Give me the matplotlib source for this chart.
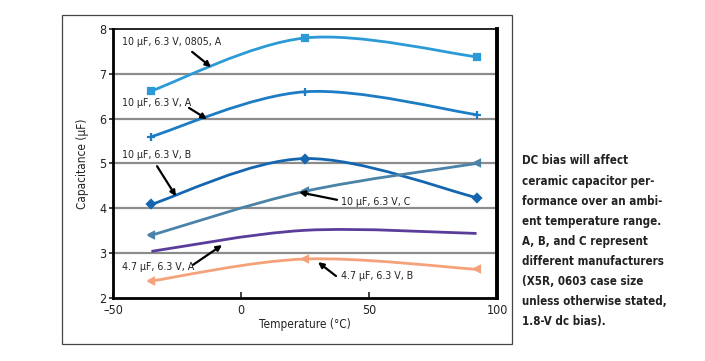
import numpy as np
import matplotlib
matplotlib.use("Agg")
import matplotlib.pyplot as plt
from matplotlib.path import Path
from matplotlib.patches import PathPatch, Rectangle
from matplotlib import font_manager

# condensed face, like the narrow type of the original figure
names = {f.name for f in font_manager.fontManager.ttflist}
narrow = 'Liberation Sans Narrow' if 'Liberation Sans Narrow' in names else 'DejaVu Sans'
plt.rcParams['font.family'] = [narrow, 'DejaVu Sans']
plt.rcParams['font.stretch'] = 'condensed'

# temperatures (°C) at which each part was measured
temps = [-35, 25, 92]

# capacitance (µF)
cap_0805_a = [6.62, 7.80, 7.38]
cap_10_a = [5.60, 6.60, 6.09]
cap_10_b = [4.09, 5.11, 4.24]
cap_10_c = [3.40, 4.38, 5.00]
cap_47_a = [3.04, 3.51, 3.44]
cap_47_b = [2.38, 2.87, 2.64]

x_ticks = [-50, 0, 50, 100]
x_tick_labels = ['\u201350', '0', '50', '100']
y_ticks = [2, 3, 4, 5, 6, 7, 8]

caption = ["DC bias will affect",
           "ceramic capacitor per-",
           "formance over an ambi-",
           "ent temperature range.",
           "A, B, and C represent",
           "different manufacturers",
           "(X5R, 0603 case size",
           "unless otherwise stated,",
           "1.8-V dc bias)."]


def smooth_path(xs, ys):
    # Excel style smoothed line: cubic Bezier through the points
    pts = np.column_stack([xs, ys]).astype(float)
    ext = np.vstack([pts[0], pts, pts[-1]])
    verts = [tuple(pts[0])]
    codes = [Path.MOVETO]
    for i in range(1, len(ext) - 2):
        p0, p1, p2, p3 = ext[i - 1], ext[i], ext[i + 1], ext[i + 2]
        c1 = p1 + (p2 - p0) / 6.0
        c2 = p2 - (p3 - p1) / 6.0
        verts += [tuple(c1), tuple(c2), tuple(p2)]
        codes += [Path.CURVE4] * 3
    return Path(verts, codes)


fig = plt.figure(figsize=(7.05, 3.61), dpi=100)
ax = fig.add_axes([0.1603, 0.1745, 0.5447, 0.7452])

# outer frame around the chart
fig.patches.append(Rectangle((62 / 705, 1 - 344 / 361), 450 / 705, 329 / 361,
                             transform=fig.transFigure, fill=False,
                             edgecolor='#444444', linewidth=0.9))

ax.set_xlim(-50, 100)
ax.set_ylim(2, 8)
for y in y_ticks[1:-1]:
    ax.axhline(y, color='#8c8c8c', linewidth=1.6, zorder=1)

series = [
    (cap_0805_a, '#2b9ad6', 's', 5),
    (cap_10_a, '#1c7cc4', '+', 6),
    (cap_10_b, '#1566b0', 'D', 4),
    (cap_10_c, '#4a82a8', '<', 5),
    (cap_47_a, '#5a3d9a', None, 0),
    (cap_47_b, '#f5a27a', '<', 5),
]
for vals, color, marker, ms in series:
    ax.add_patch(PathPatch(smooth_path(temps, vals), facecolor='none',
                           edgecolor=color, linewidth=2.0, zorder=3))
    if marker:
        ax.plot(temps, vals, linestyle='none', marker=marker, markersize=ms,
                color=color, markeredgewidth=1.6, zorder=4)

labels = [
    ("10 \u00b5F, 6.3 V, 0805, A", (-46.5, 7.71), (-19.1, 7.49), (-11.7, 7.15)),
    ("10 \u00b5F, 6.3 V, A", (-46.5, 6.35), (-20.3, 6.24), (-13.3, 5.99)),
    ("10 \u00b5F, 6.3 V, B", (-46.5, 5.19), (-32.8, 4.94), (-25.4, 4.27)),
    ("10 \u00b5F, 6.3 V, C", (39.1, 4.14), (37.5, 4.19), (22.7, 4.36)),
    ("4.7 \u00b5F, 6.3 V, A", (-46.5, 2.69), (-18.75, 2.74), (-7.4, 3.18)),
    ("4.7 \u00b5F, 6.3 V, B", (39.1, 2.49), (37.1, 2.49), (30.1, 2.80)),
]
for text, pos, tail, head in labels:
    ax.text(pos[0], pos[1], text, fontsize=7.6, color='#222222',
            ha='left', va='center', zorder=5)
    ax.annotate('', xy=head, xytext=tail,
                arrowprops=dict(arrowstyle='-|>', color='black', lw=1.6,
                                mutation_scale=8, shrinkA=0, shrinkB=0),
                zorder=5)

ax.set_xticks(x_ticks)
ax.set_xticklabels(x_tick_labels)
ax.set_yticks(y_ticks)
ax.tick_params(axis='x', direction='in', length=4, width=1.2, labelsize=9,
               colors='#222222', pad=4)
ax.tick_params(axis='y', direction='out', length=3, width=1.2, labelsize=9,
               colors='#222222', pad=2)
ax.set_xlabel("Temperature (\u00b0C)", fontsize=8.5, color='#222222', labelpad=1)
ax.set_ylabel("Capacitance (\u00b5F)", fontsize=8.5, color='#222222', labelpad=7)

for side, lw in [('left', 2.0), ('bottom', 2.0), ('top', 1.2), ('right', 2.8)]:
    ax.spines[side].set_linewidth(lw)
    ax.spines[side].set_color('black')

for i, line in enumerate(caption):
    fig.text(522 / 705, 1 - (161 + i * 20.1) / 361, line, fontsize=8.3,
             fontweight='bold', color='#222222', ha='left', va='center')

fig.savefig('out.png', dpi=100)
